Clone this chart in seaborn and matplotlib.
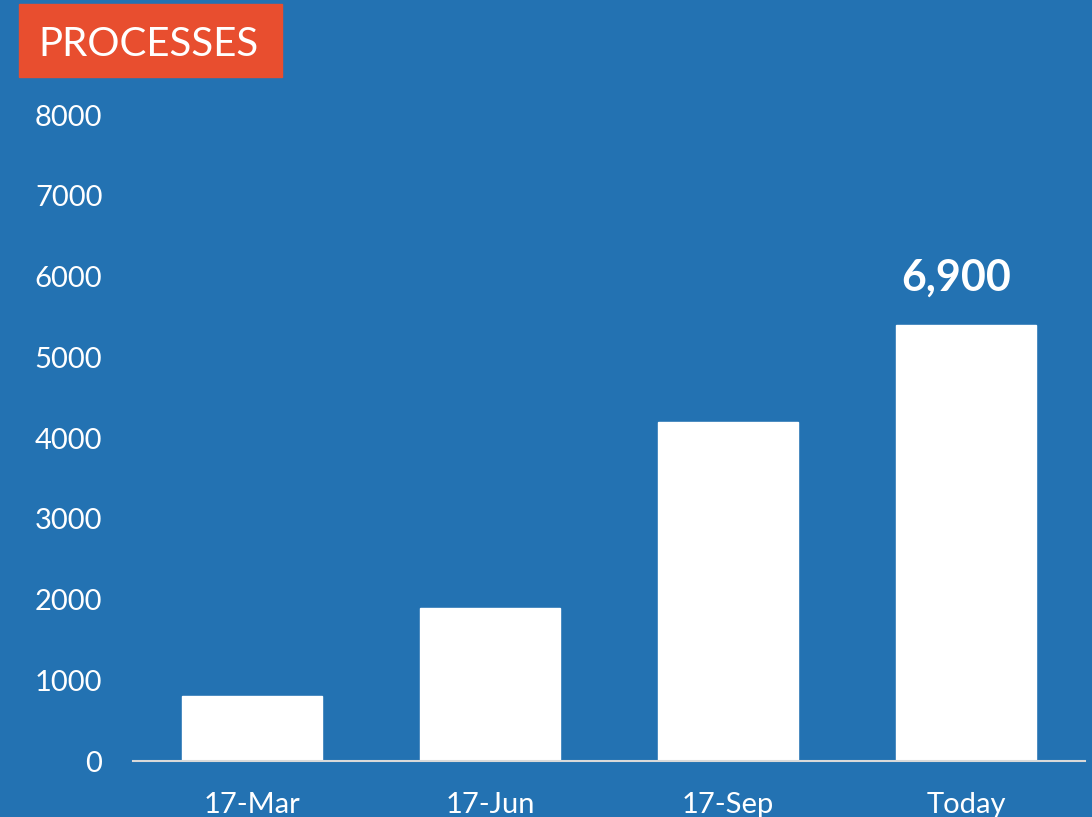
import matplotlib
matplotlib.use("Agg")
import matplotlib.pyplot as plt
import pandas as pd
import seaborn as sns

periods = ["17-Mar", "17-Jun", "17-Sep", "Today"]
processes = [800, 1900, 4200, 5400]
y_ticks = [0, 1000, 2000, 3000, 4000, 5000, 6000, 7000, 8000]
headline = "6,900"
title = "PROCESSES"

bg = "#2372B2"
accent = "#E84E2F"

sns.set_theme(style="white")
plt.rcParams["font.family"] = ["Lato", "DejaVu Sans"]

df = pd.DataFrame({"period": periods, "processes": processes})

fig = plt.figure(figsize=(10.92, 8.17), dpi=100, facecolor=bg)
ax = fig.add_axes([0.1218, 0.0685, 0.8718, 0.7907])
ax.set_facecolor(bg)

sns.barplot(data=df, x="period", y="processes", color="white", width=0.59,
            saturation=1, ax=ax)

ax.set_xlim(-0.5, 3.5)
ax.set_ylim(0, 8000)
ax.set_yticks(y_ticks)
ax.set_xlabel("")
ax.set_ylabel("")
for s in ["top", "right", "left"]:
    ax.spines[s].set_visible(False)
ax.spines["bottom"].set_color("#D9D9D9")
ax.spines["bottom"].set_linewidth(1.5)
ax.tick_params(axis="y", length=0, pad=22, labelsize=21, labelcolor="white")
ax.tick_params(axis="x", length=0, pad=22, labelsize=21, labelcolor="white")

# headline number above the last bar
ax.annotate(headline, xy=(3, processes[-1]), xytext=(-7, 25), textcoords="offset points",
            ha="center", va="baseline", fontsize=31, fontweight="bold", color="white")

# title box
fig.patches.append(plt.Rectangle((19 / 1092, 1 - 77 / 817), 263 / 1092, 73 / 817,
                                 transform=fig.transFigure, color=accent, zorder=0))
fig.text(148 / 1092, 1 - 45 / 817, title, ha="center", va="center",
         fontsize=29, color="white")

fig.savefig("out.png", dpi=100, facecolor=bg)
